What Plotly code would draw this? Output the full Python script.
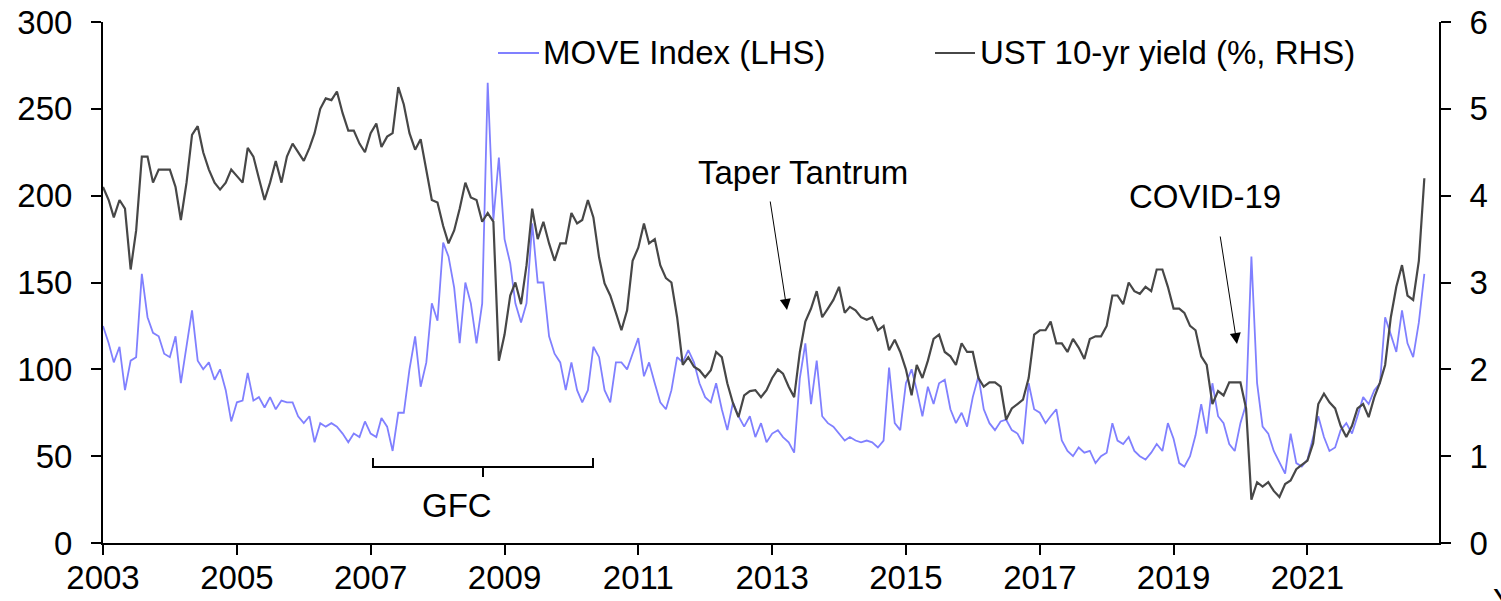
import pandas as pd
from plotly import graph_objects

# monthly readings, Jan 2003 .. Oct 2022
dates = pd.date_range('2003-01-01', periods=238, freq='MS')

move_index = [
    125, 115, 104, 113, 88, 105, 107, 155, 130, 121, 119, 109,   # 2003
    107, 119, 92, 113, 134, 105, 100, 104, 94, 100, 88, 70,      # 2004
    81, 82, 98, 82, 84, 78, 84, 77, 82, 81, 81, 73,              # 2005
    69, 73, 58, 69, 67, 69, 67, 63, 58, 63, 61, 70,              # 2006
    63, 61, 72, 67, 53, 75, 75, 100, 119, 90, 104, 138,          # 2007
    128, 173, 165, 147, 115, 150, 138, 115, 138, 265, 186, 222,  # 2008
    175, 161, 138, 127, 138, 184, 150, 150, 119, 109, 104, 88,   # 2009
    104, 88, 81, 88, 113, 107, 88, 81, 104, 104, 100, 109,       # 2010
    118, 96, 104, 92, 81, 77, 88, 107, 104, 111, 104, 92,        # 2011
    84, 81, 92, 77, 65, 81, 73, 67, 73, 61, 69, 58,              # 2012
    63, 65, 61, 58, 52, 95, 115, 80, 105, 73, 69, 67,            # 2013
    63, 59, 61, 59, 58, 59, 58, 55, 59, 101, 69, 65,             # 2014
    92, 100, 88, 73, 90, 80, 92, 94, 77, 69, 75, 67,             # 2015
    84, 96, 77, 69, 65, 70, 71, 65, 63, 57, 92, 77,              # 2016
    75, 69, 73, 77, 59, 53, 50, 55, 52, 53, 46, 50,              # 2017
    52, 69, 59, 57, 61, 53, 50, 48, 52, 57, 53, 69,              # 2018
    60, 46, 44, 50, 62, 80, 63, 92, 73, 69, 57, 53,              # 2019
    69, 80, 165, 92, 67, 63, 53, 46, 40, 63, 46, 44,             # 2020
    48, 61, 73, 61, 53, 55, 65, 69, 63, 73, 84, 80,              # 2021
    88, 92, 130, 120, 110, 134, 115, 107, 127, 155,              # 2022
]

ust_10y = [
    4.1, 3.95, 3.75, 3.95, 3.85, 3.15, 3.6, 4.45, 4.45, 4.15, 4.3, 4.3,      # 2003
    4.3, 4.1, 3.72, 4.15, 4.7, 4.8, 4.5, 4.3, 4.15, 4.07, 4.15, 4.3,         # 2004
    4.22, 4.15, 4.55, 4.45, 4.2, 3.95, 4.15, 4.4, 4.15, 4.45, 4.6, 4.5,      # 2005
    4.4, 4.55, 4.72, 5.0, 5.12, 5.1, 5.2, 4.95, 4.75, 4.75, 4.6, 4.5,        # 2006
    4.72, 4.83, 4.56, 4.68, 4.72, 5.25, 5.05, 4.72, 4.53, 4.65, 4.3, 3.95,   # 2007
    3.92, 3.65, 3.45, 3.6, 3.85, 4.15, 3.98, 3.95, 3.7, 3.8, 3.7, 2.1,       # 2008
    2.4, 2.85, 3.0, 2.75, 3.2, 3.85, 3.5, 3.7, 3.45, 3.25, 3.45, 3.45,       # 2009
    3.8, 3.68, 3.72, 3.95, 3.75, 3.29, 2.99, 2.85, 2.65, 2.45, 2.68, 3.25,   # 2010
    3.4, 3.68, 3.45, 3.5, 3.2, 3.05, 3.0, 2.6, 2.05, 2.14, 2.03, 1.99,       # 2011
    1.91, 1.99, 2.2, 2.14, 1.84, 1.61, 1.45, 1.7, 1.75, 1.76, 1.68, 1.76,    # 2012
    1.9, 2.0, 1.95, 1.8, 1.68, 2.2, 2.55, 2.7, 2.9, 2.6, 2.7, 2.8,           # 2013
    2.95, 2.65, 2.72, 2.68, 2.6, 2.57, 2.6, 2.45, 2.5, 2.22, 2.34, 2.2,      # 2014
    2.0, 1.7, 2.05, 1.9, 2.1, 2.35, 2.4, 2.2, 2.15, 2.05, 2.3, 2.2,          # 2015
    2.2, 1.9, 1.8, 1.85, 1.85, 1.8, 1.42, 1.55, 1.6, 1.65, 1.9, 2.4,         # 2016
    2.45, 2.45, 2.55, 2.3, 2.3, 2.2, 2.35, 2.25, 2.12, 2.35, 2.38, 2.38,     # 2017
    2.5, 2.85, 2.85, 2.75, 3.0, 2.9, 2.87, 2.95, 2.9, 3.15, 3.15, 2.95,      # 2018
    2.7, 2.7, 2.65, 2.5, 2.45, 2.15, 2.05, 1.6, 1.75, 1.7, 1.85, 1.85,       # 2019
    1.85, 1.55, 0.5, 0.7, 0.65, 0.7, 0.6, 0.53, 0.68, 0.72, 0.85, 0.9,       # 2020
    0.95, 1.15, 1.6, 1.72, 1.62, 1.55, 1.35, 1.22, 1.35, 1.55, 1.6, 1.45,    # 2021
    1.68, 1.85, 2.05, 2.6, 2.95, 3.2, 2.85, 2.8, 3.25, 4.2,                  # 2022
]

MOVE_COLOR = '#8080ff'
UST_COLOR = '#474747'
FONT = 'Liberation Sans, Arial, sans-serif'
SIZE = 33

# plot area in page pixels, used to place the hand-drawn legend and notes
L, R, T, B = 103, 1439, 22, 543


def px(x):
    return (x - L) / (R - L)


def py(y):
    return (B - y) / (B - T)


fig = graph_objects.Figure()
fig.add_trace(graph_objects.Scatter(x=dates, y=move_index, mode='lines', name='MOVE Index (LHS)',
                                    line=dict(color=MOVE_COLOR, width=1.8)))
fig.add_trace(graph_objects.Scatter(x=dates, y=ust_10y, mode='lines', name='UST 10-yr yield (%, RHS)',
                                    line=dict(color=UST_COLOR, width=2.2), yaxis='y2'))

axis_style = dict(showgrid=False, zeroline=False, showline=True, linecolor='black', linewidth=2,
                  ticks='outside', tickcolor='black', tickwidth=2, ticklen=10, automargin=False,
                  tickfont=dict(size=SIZE, color='black'))

fig.update_layout(
    width=1501, height=601,
    margin=dict(l=L, r=1501 - R, t=T, b=601 - B),
    paper_bgcolor='white', plot_bgcolor='white',
    font=dict(family=FONT, size=SIZE, color='black'),
    showlegend=False,
    xaxis=dict(type='date', range=['2003-01-01', '2022-12-20'], tick0='2003-01-01', dtick='M24',
               tickformat='%Y', ticklabelstandoff=-6, **axis_style),
    yaxis=dict(range=[0, 300], dtick=50, ticklabelstandoff=12, **axis_style),
    yaxis2=dict(range=[0, 6], dtick=1, overlaying='y', side='right', ticklabelstandoff=12, **axis_style),
)

# legend drawn by hand so the swatches match the original length
shapes = [
    dict(type='line', xref='paper', yref='paper', x0=px(498), x1=px(539), y0=py(53), y1=py(53),
         line=dict(color=MOVE_COLOR, width=2)),
    dict(type='line', xref='paper', yref='paper', x0=px(935), x1=px(975), y0=py(53), y1=py(53),
         line=dict(color=UST_COLOR, width=2)),
    # GFC bracket
    dict(type='path', xref='paper', yref='paper',
         path=f'M {px(373)},{py(458)} L {px(373)},{py(467)} L {px(593)},{py(467)} L {px(593)},{py(458)}',
         line=dict(color='black', width=2)),
    dict(type='line', xref='paper', yref='paper', x0=px(483), x1=px(483), y0=py(467), y1=py(477),
         line=dict(color='black', width=2)),
]
fig.update_layout(shapes=shapes)

notes = [
    dict(text='MOVE Index (LHS)', x=px(541), y=py(52), xanchor='left', yanchor='middle'),
    dict(text='UST 10-yr yield (%, RHS)', x=px(978), y=py(52), xanchor='left', yanchor='middle'),
    dict(text='Taper Tantrum', x=px(803), y=py(172), xanchor='center', yanchor='middle'),
    dict(text='COVID-19', x=px(1205), y=py(196), xanchor='center', yanchor='middle'),
    dict(text='GFC', x=px(457), y=py(505), xanchor='center', yanchor='middle'),
    dict(text='Y', x=px(1491), y=py(580), xanchor='left', yanchor='top'),
]
for n in notes:
    fig.add_annotation(xref='paper', yref='paper', showarrow=False, font=dict(size=SIZE, color='black'), **n)

# arrows
for tip, tail in [((787, 310), (770, 200)), ((1237, 344), (1220, 235))]:
    fig.add_annotation(xref='paper', yref='paper', x=px(tip[0]), y=py(tip[1]), text='',
                       showarrow=True, arrowhead=2, arrowsize=2.2, arrowwidth=1, arrowcolor='black',
                       ax=tail[0] - tip[0], ay=tail[1] - tip[1], standoff=0)

fig.write_html("out.html", config={'displayModeBar': False},
               post_script="document.body.style.margin='0';")
